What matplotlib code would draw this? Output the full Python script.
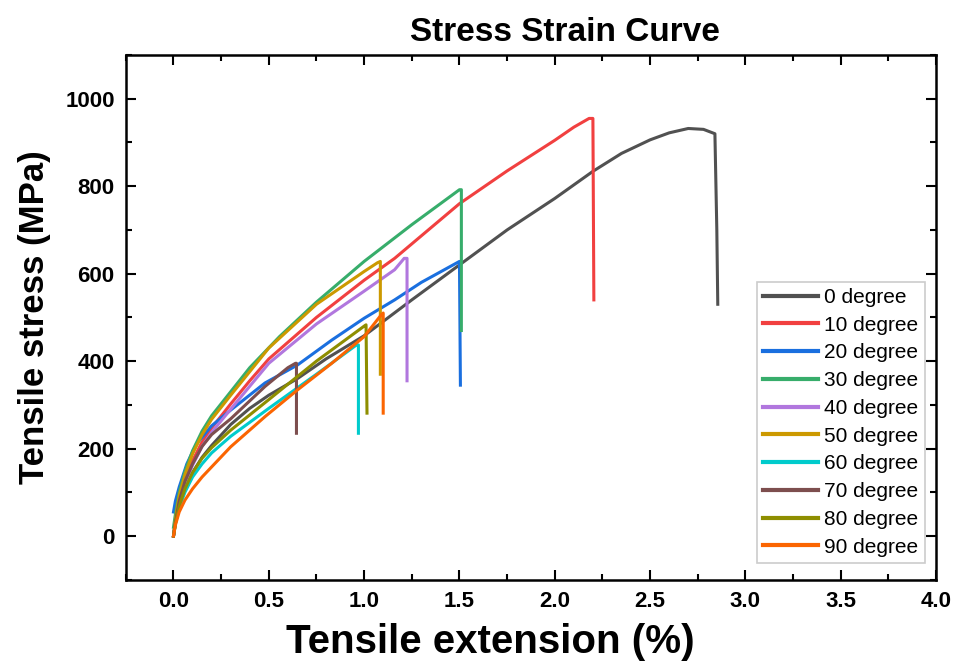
import matplotlib
matplotlib.use("Agg")
import matplotlib.pyplot as plt
from matplotlib.ticker import MultipleLocator

plt.rcParams['font.family'] = ['Liberation Sans', 'DejaVu Sans']

# curves: (extension %, stress MPa)
labels = ["0 degree", "10 degree", "20 degree", "30 degree", "40 degree",
          "50 degree", "60 degree", "70 degree", "80 degree", "90 degree"]
colors = ["#515151", "#F14040", "#1A6FDF", "#37AD6B", "#B177DE",
          "#CC9900", "#00CBCC", "#7D4E4E", "#8E8E00", "#FB6501"]

x_0  = [0, 0.01, 0.03, 0.06, 0.1, 0.15, 0.2, 0.3, 0.4, 0.5, 0.65, 0.8, 1.0, 1.25, 1.5, 1.75, 2.0, 2.2, 2.35, 2.5, 2.6, 2.7, 2.78, 2.84, 2.85, 2.855]
y_0  = [0, 30, 70, 110, 145, 180, 207, 255, 292, 322, 360, 405, 458, 540, 620, 700, 772, 834, 875, 906, 922, 932, 930, 920, 700, 530]
x_10 = [0, 0.01, 0.03, 0.06, 0.1, 0.15, 0.2, 0.3, 0.4, 0.5, 0.75, 1.0, 1.16, 1.5, 1.75, 2.0, 2.1, 2.18, 2.2, 2.205]
y_10 = [0, 35, 85, 130, 172, 215, 247, 302, 355, 405, 500, 585, 635, 760, 835, 905, 935, 955, 955, 540]
x_20 = [0, 0.01, 0.03, 0.07, 0.12, 0.2, 0.3, 0.48, 0.65, 0.83, 1.0, 1.16, 1.3, 1.5, 1.505]
y_20 = [55, 80, 112, 165, 210, 252, 288, 350, 391, 448, 498, 540, 580, 628, 345]
x_30 = [0, 0.01, 0.03, 0.06, 0.1, 0.15, 0.2, 0.3, 0.4, 0.556, 0.75, 1.0, 1.25, 1.5, 1.51, 1.51]
y_30 = [20, 50, 100, 148, 195, 240, 275, 330, 385, 456, 535, 628, 712, 792, 792, 470]
x_40 = [0, 0.01, 0.03, 0.06, 0.1, 0.15, 0.2, 0.3, 0.5, 0.75, 1.0, 1.16, 1.21, 1.225, 1.225]
y_40 = [0, 32, 78, 120, 162, 205, 237, 290, 395, 485, 560, 609, 635, 635, 355]
x_50 = [0, 0.01, 0.03, 0.06, 0.1, 0.15, 0.2, 0.3, 0.5, 0.75, 1.0, 1.07, 1.085, 1.085]
y_50 = [0, 38, 92, 140, 188, 232, 267, 322, 430, 530, 605, 625, 628, 370]
x_60 = [0, 0.01, 0.03, 0.06, 0.1, 0.15, 0.2, 0.3, 0.5, 0.75, 0.96, 0.97, 0.97]
y_60 = [0, 28, 65, 100, 135, 165, 190, 228, 292, 370, 437, 437, 235]
x_70 = [0, 0.01, 0.03, 0.06, 0.1, 0.15, 0.2, 0.3, 0.48, 0.6, 0.64, 0.645, 0.645]
y_70 = [0, 32, 80, 125, 165, 205, 232, 268, 342, 385, 395, 395, 235]
x_80 = [0, 0.01, 0.03, 0.06, 0.1, 0.15, 0.2, 0.3, 0.5, 0.75, 1.0, 1.01, 1.015]
y_80 = [0, 28, 68, 108, 145, 178, 202, 242, 312, 400, 480, 483, 281]
x_90 = [0, 0.01, 0.03, 0.06, 0.1, 0.15, 0.2, 0.3, 0.48, 0.65, 0.83, 1.0, 1.09, 1.1, 1.1]
y_90 = [0, 25, 55, 82, 108, 135, 158, 204, 273, 334, 395, 456, 506, 510, 281]

xs = [x_0, x_10, x_20, x_30, x_40, x_50, x_60, x_70, x_80, x_90]
ys = [y_0, y_10, y_20, y_30, y_40, y_50, y_60, y_70, y_80, y_90]

fig = plt.figure(figsize=(9.68, 6.71), dpi=100)
ax = fig.add_axes([0.130, 0.136, 0.837, 0.782])

for x, y, c, lab in zip(xs, ys, colors, labels):
    ax.plot(x, y, color=c, lw=2.2, label=lab, solid_joinstyle='round')

ax.set_xlim(-0.25, 4.0)
ax.set_ylim(-100, 1100)
ax.xaxis.set_minor_locator(MultipleLocator(0.25))
ax.yaxis.set_minor_locator(MultipleLocator(100))
ax.set_xticks([0, 0.5, 1.0, 1.5, 2.0, 2.5, 3.0, 3.5, 4.0])
ax.set_yticks([0, 200, 400, 600, 800, 1000])
ax.tick_params(which='both', direction='in', top=True, right=True, width=1.5,
               labelsize=16, pad=8)
ax.tick_params(which='major', length=7)
ax.tick_params(which='minor', length=4)
for t in ax.get_xticklabels() + ax.get_yticklabels():
    t.set_fontweight('bold')
for s in ax.spines.values():
    s.set_linewidth(1.8)

ax.set_xlabel("Tensile extension (%)", fontsize=29, fontweight='bold')
ax.xaxis.set_label_coords(0.45, -0.082)
ax.xaxis.label.set_va('top')
ax.set_ylabel("Tensile stress (MPa)", fontsize=25, fontweight='bold', labelpad=10)
ax.set_title("Stress Strain Curve", fontsize=24, fontweight='bold', pad=10, x=0.542)

leg = ax.legend(loc='lower right', bbox_to_anchor=(0.986, 0.032), borderaxespad=0,
                fontsize=15, handlelength=2.65, labelspacing=0.42, handletextpad=0.3,
                borderpad=0.3, fancybox=False, framealpha=1)
leg.get_frame().set_edgecolor('#cccccc')
leg.get_frame().set_linewidth(1.2)
for h in leg.get_lines():
    h.set_linewidth(3)

fig.savefig("out.png", dpi=100)
